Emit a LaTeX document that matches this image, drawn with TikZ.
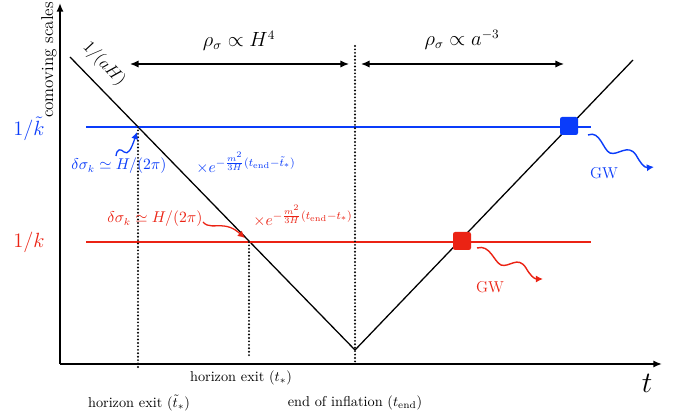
\documentclass[tikz,border=0pt]{standalone}
\usetikzlibrary{arrows.meta}
\definecolor{bl}{RGB}{10,60,250}
\definecolor{rd}{RGB}{235,35,20}
\begin{document}
\begin{tikzpicture}[x=0.7pt,y=-0.7pt,
  axis/.style={line width=1.6pt,-{Latex[length=6pt,width=5pt]}},
  curve/.style={line width=0.9pt},
  level/.style={line width=0.75pt},
  dots/.style={line width=1.5pt,dash pattern=on 0pt off 2.4pt,line cap=round},
  span/.style={line width=0.9pt,{Latex[length=6pt,width=5pt]}-{Latex[length=6pt,width=5pt]}},
  sqbox/.style={minimum size=12.6pt,inner sep=0pt,rounded corners=1.5pt},
  wave/.style={line width=1pt,-{Latex[length=5pt,width=5pt]}},
  txt/.style={inner sep=0pt}]
\useasboundingbox (0,0) rectangle (677,419);
% coordinates
\coordinate (O) at (60,364);
\coordinate (Ytop) at (60,3);
\coordinate (Xend) at (662,364);
\coordinate (A) at (70,57);
\coordinate (V) at (355,350);
\coordinate (B) at (633,60);
\coordinate (bl1) at (86,127);
\coordinate (bl2) at (591,127);
\coordinate (rd1) at (86,242);
\coordinate (rd2) at (591,242);
\coordinate (d1t) at (138,127);
\coordinate (d1b) at (138,368);
\coordinate (d2t) at (249,242);
\coordinate (d2b) at (249,356);
\coordinate (d3t) at (355,46);
\coordinate (d3b) at (355,364);
\coordinate (h1l) at (130,64);
\coordinate (h1r) at (349,64);
\coordinate (h2l) at (361,64);
\coordinate (h2r) at (564,64);
% axes
\draw[axis] (O) -- (Ytop);
\draw[axis] (O) -- (Xend);
% horizon curve
\draw[curve] (A) -- (V) -- (B);
% levels
\draw[level,bl] (bl1) -- (bl2);
\draw[level,rd] (rd1) -- (rd2);
% dotted verticals
\draw[dots] (d1t) -- (d1b);
\draw[dots] (d2t) -- (d2b);
\draw[dots] (d3t) -- (d3b);
% spans
\draw[span] (h1l) -- (h1r);
\draw[span] (h2l) -- (h2r);
% squares
\node[sqbox,fill=bl] (sqb) at (569,126) {};
\node[sqbox,fill=rd] (sqr) at (462,241) {};
% labels
\node[txt] (rhoH) at (239,41) {\fontsize{13.5}{16}\selectfont $\rho_\sigma \propto H^4$};
\node[txt] (rhoA) at (462,40) {\fontsize{13.5}{16}\selectfont $\rho_\sigma \propto a^{-3}$};
\node[txt,rotate=90] (cov) at (49,60) {\large comoving scales};
\node[txt,rotate=-47] (aH) at (104,64) {\large $1/(aH)$};
\node[txt,bl] (kt) at (29,129) {\Large $1/\tilde{k}$};
\node[txt,rd] (k) at (29,242) {\Large $1/k$};
\node[txt,bl] (dsb) at (119,166) {\fontsize{10.6}{13}\selectfont $\delta\sigma_k \simeq H/(2\pi)$};
\node[txt,bl] (exb) at (246,163) {\fontsize{11.2}{13}\selectfont $\times e^{-\frac{m^2}{3H}(t_{\rm end}-\tilde{t}_*)}$};
\node[txt,rd] (dsr) at (155,219) {\fontsize{10.6}{13}\selectfont $\delta\sigma_k \simeq H/(2\pi)$};
\node[txt,rd] (exr) at (303,216) {\fontsize{11.2}{13}\selectfont $\times e^{-\frac{m^2}{3H}(t_{\rm end}-t_*)}$};
\node[txt,bl] (gwb) at (604,173) {\fontsize{11}{13}\selectfont GW};
\node[txt,rd] (gwr) at (490,287) {\fontsize{11}{13}\selectfont GW};
\node[txt] (hx1) at (241,378) {horizon exit $(t_*)$};
\node[txt] (hx2) at (139,403) {horizon exit $(\tilde{t}_*)$};
\node[txt] (eoi) at (355,403) {end of inflation $(t_{\rm end})$};
\node[txt] (tl) at (647,383) {\huge $t$};
% small wiggle arrows
\coordinate (wb0) at (116,156);
\coordinate (wb1) at (137,132);
\draw[wave,bl,line width=0.9pt] (wb0) .. controls (117,148) and (121,149) .. (124,152) .. controls (128,155) and (131,150) .. (wb1);
\coordinate (wr0) at (203,222);
\coordinate (wr1) at (245,238);
\draw[wave,rd,line width=0.9pt] (wr0) .. controls (208,228) and (215,225) .. (224,226) .. controls (233,227) and (238,232) .. (wr1);
% GW waves
\coordinate (gb0) at (588,135);
\coordinate (gb1) at (654,167);
\draw[wave,bl] (gb0) .. controls (600,130) and (603,150) .. (610,153) .. controls (618,156) and (628,143) .. (636,155) .. controls (640,162) and (644,168) .. (gb1);
\coordinate (gr0) at (477,248);
\coordinate (gr1) at (543,279);
\draw[wave,rd] (gr0) .. controls (490,244) and (494,262) .. (501,265) .. controls (509,268) and (518,255) .. (526,268) .. controls (530,275) and (534,279) .. (gr1);
\end{tikzpicture}
\end{document}
